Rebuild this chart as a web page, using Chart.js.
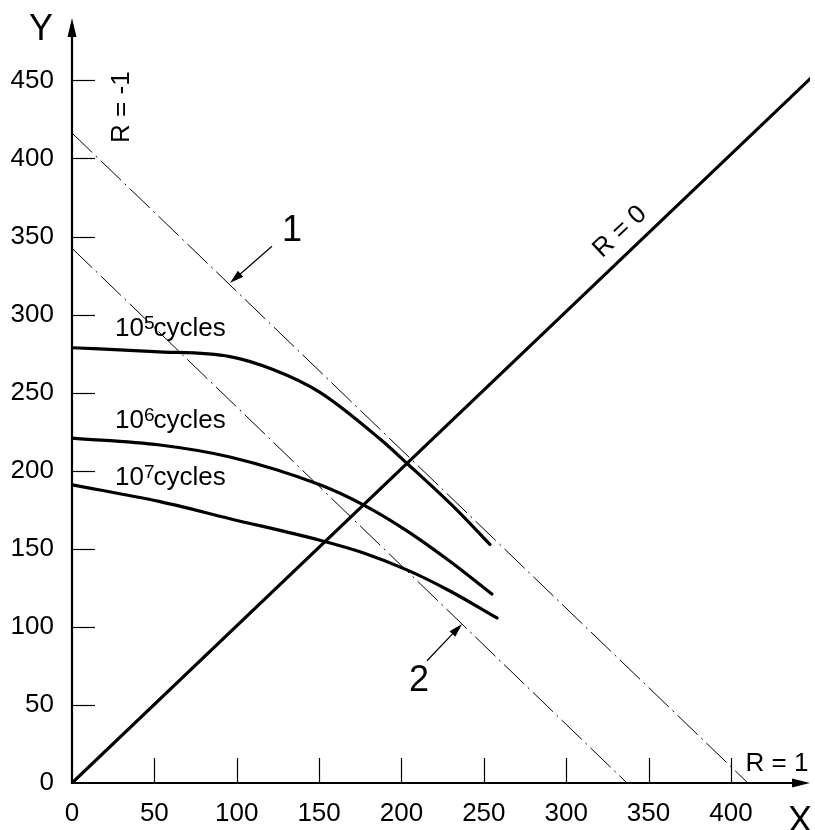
<!DOCTYPE html>
<html><head><meta charset="utf-8">
<script src="https://cdn.jsdelivr.net/npm/chart.js@4.4.1/dist/chart.umd.min.js"></script>
<style>html,body{margin:0;padding:0;background:#fff;}canvas{display:block;}</style>
</head><body>
<canvas id="c" width="815" height="830"></canvas>
<script>
// ---- data (x = mean stress, y = stress amplitude) ----
const xTicks = [0,50,100,150,200,250,300,350,400];
const yTicks = [0,50,100,150,200,250,300,350,400,450];
const cycles5 = [[0,278.8],[50,276.3],[95.9,273.1],[122,264.8],[150.5,250.2],[187,220.3],[203.3,204.8],[233.7,174.8],[253.7,152.8]];
const cycles6 = [[0,220.9],[53.4,216.5],[95.9,208.8],[150.5,191],[176.6,178.3],[203.3,161.5],[229.4,142],[254.9,121]];
const cycles7 = [[0,191],[53.4,180.2],[95.9,169.3],[150.5,155.5],[176.6,147.5],[203.3,136.5],[229.4,123],[258,105.7]];
const line1 = [[0,416.3],[410.3,0]];
const line2 = [[0,342.5],[336.9,0]];
const lineR0 = [[0,0],[449,452]];
const axisEnd = {x:448, y:490};
const labels = [
  {t:'Y', x:-18.8, y:482, size:36},
  {t:'X', x:442, y:-25, size:36},
  {t:'R = -1', x:30.4, y:432.9, size:26, rot:-90},
  {t:'R = 0', x:332.7, y:353, size:26, rot:-43},
  {t:'R = 1', x:428, y:12.1, size:26},
  {t:'1', x:133.6, y:353.3, size:36},
  {t:'2', x:210.6, y:65.6, size:36}
];
const cycleLabels = [
  {exp:'5', x:26.1, y:292.2},
  {exp:'6', x:26.1, y:233.3},
  {exp:'7', x:26.1, y:196.7}
];
const arrows = [
  {from:[121.4,343.8], to:[95.9,320.2]},
  {from:[215.5,78.3], to:[236.8,101.9]}
];

const pts = a => a.map(p=>({x:p[0], y:p[1]}));
const FONT = '"Liberation Sans", Arial, Helvetica, sans-serif';

const thick = {showLine:true, borderColor:'#000', borderWidth:3.2, pointRadius:0, fill:false, borderCapStyle:'round', borderJoinStyle:'round'};
const dashdot = {showLine:true, borderColor:'#000', borderWidth:1, pointRadius:0, fill:false, borderDash:[28,5,2,5]};

const annot = {
  id:'annot',
  afterDraw(chart){
    const {ctx, scales:{x, y}} = chart;
    const X = v=>x.getPixelForValue(v), Y = v=>y.getPixelForValue(v);
    ctx.save();
    ctx.strokeStyle='#000'; ctx.fillStyle='#000';
    const x0 = X(0), y0 = Y(0);
    ctx.lineWidth = 2.2;
    ctx.beginPath(); ctx.moveTo(x0, y0+1); ctx.lineTo(x0, Y(axisEnd.y)+18); ctx.stroke();
    ctx.beginPath(); ctx.moveTo(x0-1, y0); ctx.lineTo(X(axisEnd.x)-16, y0); ctx.stroke();
    ctx.beginPath(); ctx.moveTo(x0, Y(axisEnd.y)); ctx.lineTo(x0-4.5, Y(axisEnd.y)+19); ctx.lineTo(x0+4.5, Y(axisEnd.y)+19); ctx.closePath(); ctx.fill();
    ctx.beginPath(); ctx.moveTo(X(axisEnd.x), y0); ctx.lineTo(X(axisEnd.x)-18, y0-4.5); ctx.lineTo(X(axisEnd.x)-18, y0+4.5); ctx.closePath(); ctx.fill();
    ctx.lineWidth = 1.2;
    yTicks.forEach(v=>{ if(v===0) return; const py=Math.round(Y(v))+0.5; ctx.beginPath(); ctx.moveTo(x0, py); ctx.lineTo(x0+23, py); ctx.stroke(); });
    xTicks.forEach(v=>{ if(v===0) return; const px=Math.round(X(v))+0.5; ctx.beginPath(); ctx.moveTo(px, y0); ctx.lineTo(px, y0-25); ctx.stroke(); });
    arrows.forEach(a=>{
      const fx=X(a.from[0]), fy=Y(a.from[1]), tx=X(a.to[0]), ty=Y(a.to[1]);
      const ang = Math.atan2(ty-fy, tx-fx);
      ctx.lineWidth=1.2;
      ctx.beginPath(); ctx.moveTo(fx,fy); ctx.lineTo(tx-8*Math.cos(ang), ty-8*Math.sin(ang)); ctx.stroke();
      const L=14, W=4;
      ctx.beginPath(); ctx.moveTo(tx,ty);
      ctx.lineTo(tx-L*Math.cos(ang)+W*Math.sin(ang), ty-L*Math.sin(ang)-W*Math.cos(ang));
      ctx.lineTo(tx-L*Math.cos(ang)-W*Math.sin(ang), ty-L*Math.sin(ang)+W*Math.cos(ang));
      ctx.closePath(); ctx.fill();
    });
    ctx.textAlign='center'; ctx.textBaseline='middle';
    labels.forEach(l=>{
      ctx.save();
      ctx.translate(X(l.x), Y(l.y));
      if(l.rot) ctx.rotate(l.rot*Math.PI/180);
      ctx.font = l.size+'px '+FONT;
      ctx.fillText(l.t, 0, 0);
      ctx.restore();
    });
    ctx.textAlign='left'; ctx.textBaseline='alphabetic';
    cycleLabels.forEach(c=>{
      let px = X(c.x); const base = Y(c.y)+9;
      ctx.font = '26px '+FONT;
      ctx.fillText('10', px, base); px += ctx.measureText('10').width;
      ctx.font = '19px '+FONT;
      ctx.fillText(c.exp, px, base-7); px += ctx.measureText(c.exp).width - 1;
      ctx.font = '26px '+FONT;
      ctx.fillText('cycles', px, base);
    });
    ctx.restore();
  }
};

new Chart(document.getElementById('c'), {
  type:'scatter',
  data:{datasets:[
    Object.assign({label:'R=0', data:pts(lineR0)}, thick),
    Object.assign({label:'1', data:pts(line1)}, dashdot),
    Object.assign({label:'2', data:pts(line2)}, dashdot),
    Object.assign({label:'10^5 cycles', data:pts(cycles5), cubicInterpolationMode:'monotone'}, thick),
    Object.assign({label:'10^6 cycles', data:pts(cycles6), cubicInterpolationMode:'monotone'}, thick),
    Object.assign({label:'10^7 cycles', data:pts(cycles7), cubicInterpolationMode:'monotone'}, thick)
  ]},
  options:{
    responsive:false, animation:false, devicePixelRatio:1,
    layout:{padding:{top:29, right:5, left:0, bottom:0}},
    plugins:{legend:{display:false}, tooltip:{enabled:false}},
    scales:{
      x:{type:'linear', min:0, max:448,
        grid:{display:false, drawTicks:false}, border:{display:false},
        ticks:{color:'#000', font:{size:26, family:FONT}, padding:15, maxRotation:0, minRotation:0, autoSkip:false},
        afterBuildTicks(s){ s.ticks = xTicks.map(v=>({value:v})); },
        afterFit(s){ s.height = 47; }
      },
      y:{type:'linear', min:0, max:480,
        grid:{display:false, drawTicks:false}, border:{display:false},
        ticks:{color:'#000', font:{size:26, family:FONT}, padding:18, autoSkip:false},
        afterBuildTicks(s){ s.ticks = yTicks.map(v=>({value:v})); },
        afterFit(s){ s.width = 72; }
      }
    }
  },
  plugins:[annot]
});
</script>
</body></html>
